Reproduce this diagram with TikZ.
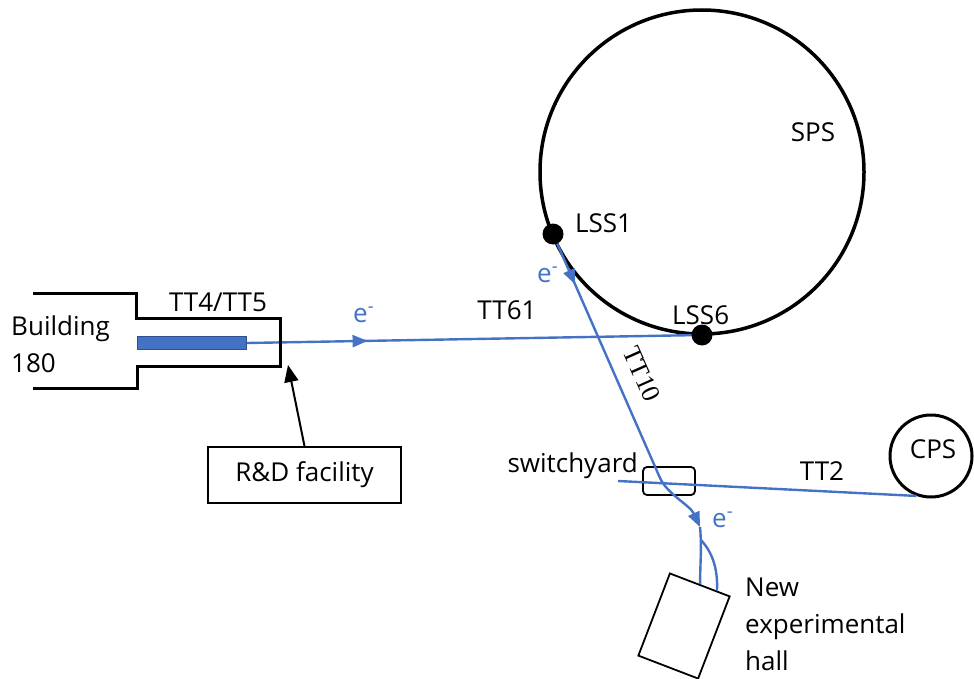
\documentclass[tikz,border=0pt]{standalone}
\usepackage{fontspec}
\setmainfont{Open Sans}
\newfontfamily\tenfont{Liberation Serif}
\usetikzlibrary{arrows.meta,decorations.markings,calc}
\definecolor{beamblue}{HTML}{4472C4}
\definecolor{bardark}{HTML}{2F528F}
\pgfdeclarelayer{back}
\pgfsetlayers{back,main}

\begin{document}
\begin{tikzpicture}[x=1pt,y=-1pt,
  lbl/.style={inner sep=0pt, font=\fontsize{26}{37}\selectfont},
  beamlbl/.style={lbl, text=beamblue},
  beam/.style={draw=beamblue, line width=2.4pt},
  wall/.style={draw=black, line width=3pt, line join=miter},
  beamtip/.style={-{Triangle[length=15pt,width=12pt]}},
  dot/.style={circle, fill=black, minimum size=21pt, inner sep=0pt},
  framebox/.style={draw=black, line width=1.8pt, inner sep=0pt}
]
\useasboundingbox (0,0) rectangle (974,679);

% insertion points (drawn on top of the beams)
\node[dot] (lss1) at (553,234) {};
\node[dot] (lss6) at (702,335) {};

% target bar in the R&D area
\node[draw=bardark, fill=beamblue, line width=1pt, minimum width=109pt,
      minimum height=13pt, inner sep=0pt, anchor=west] (bar) at (137,343) {};

\begin{pgfonlayer}{back}
% rings
\node[circle, draw, line width=3.5pt, minimum size=324pt, inner sep=0pt] (sps) at (702,172) {};
\node[circle, draw, line width=3pt, minimum size=82pt, inner sep=0pt] (cps) at (931,456) {};

% switchyard and new hall
\node[framebox, rounded corners=4pt, minimum width=52pt, minimum height=28pt] (swbox) at (669,481) {};
\node[framebox, minimum width=64pt, minimum height=88pt, rotate=-21] (hall) at (684,626) {};

% beam lines
\coordinate (sw1) at (660,478);
\coordinate (sw2) at (700,527);
\coordinate (fork) at (701,540);
\coordinate (tt2w) at (618,481);

\draw[beam, postaction={decorate}, decoration={markings,
      mark=at position 0.265 with {\arrow[beamblue]{Triangle[length=15pt,width=12pt]}}}]
  (bar.east) -- (lss6.center);
\draw[beam, beamtip, postaction={decorate}, decoration={markings,
      mark=at position 55pt with {\arrow[beamblue]{Triangle[length=15pt,width=12pt]}}}]
  (lss1.center) -- (sw1) .. controls (668,495) and (690,505) .. (sw2);
\draw[beam] (sw2) .. controls (702,548) and (700,565) .. (hall.north);
\draw[beam] (fork) .. controls (712,552) and (718,568) .. ($(hall.north)!0.55!(hall.north east)$);
\draw[beam] (tt2w) -- (cps.250);
\end{pgfonlayer}

% building 180 outline
\draw[wall] (33,293) -- (136,293) -- (136,318) -- (280,318) -- (280,366)
  -- (137,366) -- (137,388) -- (33,388);

% R&D facility callout
\node[framebox, minimum width=193pt, minimum height=56pt, font=\fontsize{26}{37}\selectfont] (rd) at (304.5,475) {R\&D facility};
\coordinate (rdtip) at (288,365);
\draw[line width=2pt, -{Triangle[length=17pt,width=14pt]}] (rd.north) -- (rdtip);

% labels
\node[lbl, align=left, anchor=west] (b180) at (11,344) {Building\\180};
\node[lbl, anchor=base] (tt45) at (218,311) {TT4/TT5};
\node[beamlbl, anchor=base west] (e1) at (353,322) {e\textsuperscript{-}};
\node[lbl, anchor=base] (tt61) at (507,319) {TT61};
\node[lbl, anchor=base west] (l1) at (575,233) {LSS1};
\node[lbl, anchor=base west] (l6) at (672,324) {LSS6};
\node[beamlbl, anchor=base west] (e2) at (537,282) {e\textsuperscript{-}};
\node[lbl, anchor=base] (spsl) at (813,142) {SPS};
\node[lbl, anchor=base] (cpsl) at (933,458) {CPS};
\node[lbl, anchor=base] (tt2l) at (822,480) {TT2};
\node[lbl, anchor=base east] (swl) at (638,472) {switchyard};
\node[beamlbl, anchor=base west] (e3) at (712,527) {e\textsuperscript{-}};
\node[lbl, align=left, anchor=west] (hallt) at (745,624) {New\\experimental\\hall};
\node[lbl, font=\tenfont\fontsize{26}{30}\selectfont, rotate=-66] (tt10) at (642,374) {TT10};
\end{tikzpicture}
\end{document}
